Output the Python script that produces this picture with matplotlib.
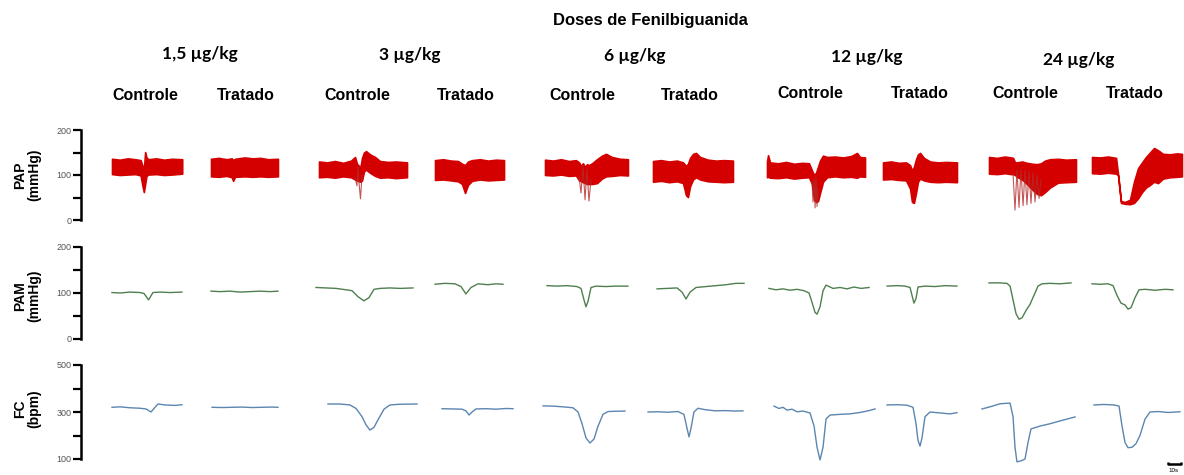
import numpy as np
import matplotlib.pyplot as plt

W, H = 1184, 475
PX_PER_S = 1.3  # horizontal scale of the traces (10 s bar = 13 px)

doses = ["1,5 µg/kg", "3 µg/kg", "6 µg/kg", "12 µg/kg", "24 µg/kg"]
groups = ["Controle", "Tratado"]

# ---- PAP (mmHg): upper / lower envelope of the pulsatile trace, time in s ----
pap_t = [
    [0, 6, 12, 18, 22, 23.5, 24.5, 25.5, 26.5, 28, 34, 40, 46, 54],
    [0, 6, 12, 16, 17, 18.5, 26, 32, 38, 44, 51.5],
    [0, 6.2, 12.3, 18.5, 24.6, 27.7, 29.2, 30.8, 31.9, 33.1, 34.6, 36.2, 39.2, 43.1, 46.9, 53.1, 59.2, 67.7],
    [0, 6.2, 12.3, 17.7, 20.8, 23.1, 25.4, 28.5, 34.6, 40.8, 46.9, 53.1],
    [0, 6.2, 12.3, 18.5, 23.8, 26.2, 27.7, 29.2, 30.8, 32.3, 33.8, 36.2, 40, 43.8, 46.9, 51.5, 57.7, 63.8],
    [0, 6.2, 12.3, 18.5, 23.1, 25.4, 26.9, 28.5, 30.8, 33.1, 36.2, 42.3, 48.5, 54.6, 61.5],
    [0, 0.8, 2.3, 8.5, 14.6, 20.8, 26.9, 32.3, 34.6, 36.2, 37.7, 39.2, 40.8, 43.1, 46.2, 52.3, 58.5, 64.6, 69.2, 71.5, 75.4],
    [0, 6.2, 12.3, 17.7, 20.8, 22.3, 23.8, 25.4, 26.9, 28.5, 31.5, 36.2, 42.3, 48.5, 56.9],
    [0, 6.2, 12.3, 16.9, 18.5, 20, 21.5, 25.4, 29.2, 33.1, 36.9, 40, 43.1, 46.9, 53.1, 59.2, 66.9],
    [0, 6.2, 12.3, 18.5, 20, 22.3, 25.4, 29.2, 32.3, 35.4, 38.5, 41.5, 44.6, 47.7, 50.8, 54.6, 60, 65.4, 69.2],
]
pap_top = [
    [136, 134, 137, 135, 133, 120, 112, 151, 139, 135, 137, 134, 136, 135],
    [136, 138, 135, 137, 133, 136, 139, 137, 138, 135, 136],
    [130, 128, 131, 127, 132, 140, 125, 120, 118, 138, 150, 153, 146, 140, 131, 129, 130, 128],
    [133, 135, 132, 131, 125, 122, 130, 133, 135, 132, 134, 133],
    [134, 132, 135, 131, 133, 128, 120, 126, 118, 124, 122, 126, 135, 143, 147, 140, 136, 135],
    [131, 133, 130, 132, 128, 120, 125, 138, 147, 149, 140, 134, 132, 133, 132],
    [130, 144, 128, 126, 129, 125, 127, 126, 110, 100, 105, 118, 132, 143, 140, 141, 139, 142, 149, 140, 139],
    [128, 130, 127, 128, 122, 110, 118, 135, 146, 149, 138, 130, 128, 129, 128],
    [140, 138, 141, 139, 138, 128, 128, 130, 127, 125, 124, 126, 132, 135, 136, 134, 135],
    [140, 139, 141, 138, 103, 42, 40, 45, 85, 115, 128, 140, 150, 160, 155, 147, 146, 148, 147],
]
pap_bot = [
    [102, 100, 101, 102, 99, 75, 62, 80, 98, 101, 102, 100, 101, 103],
    [97, 96, 98, 95, 87, 96, 97, 96, 97, 96, 97],
    [95, 96, 94, 97, 95, 90, 88, 86, 85, 88, 108, 112, 105, 98, 94, 95, 93, 95],
    [89, 90, 88, 86, 80, 60, 78, 87, 90, 88, 89, 90],
    [100, 99, 101, 98, 99, 88, 86, 84, 82, 80, 80, 80, 82, 92, 97, 98, 100, 99],
    [85, 87, 84, 86, 82, 55, 51, 75, 90, 95, 90, 86, 85, 84, 85],
    [95, 96, 94, 93, 95, 92, 94, 95, 80, 45, 40, 42, 60, 85, 95, 97, 95, 96, 94, 97, 96],
    [90, 91, 89, 88, 70, 40, 38, 60, 85, 92, 88, 85, 84, 85, 84],
    [103, 102, 104, 102, 102, 100, 96, 90, 80, 68, 58, 55, 62, 72, 83, 84, 85],
    [104, 103, 105, 103, 100, 38, 36, 35, 38, 48, 62, 72, 78, 85, 82, 92, 95, 96, 97],
]

# individual beats that swing below the envelope (segment, time, value)
spk_seg = [2, 4, 6, 8]
spk_t = [
    [27.7, 29.2, 30.0, 30.8, 31.9, 33.1],
    [26.2, 27.7, 29.2, 30.8, 32.3, 33.8, 35.4],
    [34.6, 35.4, 36.2, 37.0, 37.7, 38.5, 39.2],
    [18.5, 20, 21.5, 23.1, 24.6, 26.2, 27.7, 29.2, 30.8, 32.3, 33.8, 35.4, 36.9, 38.5, 40],
]
spk_v = [
    [95, 76, 118, 82, 47, 100],
    [95, 60, 120, 45, 115, 42, 90],
    [85, 40, 90, 27, 95, 30, 70],
    [102, 22, 110, 28, 112, 32, 110, 34, 108, 37, 105, 40, 100, 48, 90],
]

# ---- PAM (mmHg) ----
pam_t = [
    [0, 6.2, 13.8, 21.5, 24.6, 26.9, 28.1, 29.2, 31.5, 36.9, 44.6, 53.8],
    [0, 6.9, 14.6, 22.3, 30, 37.7, 45.4, 51.5],
    [-2.3, 5.4, 13.1, 20.8, 25.4, 30, 34.6, 38.5, 42.3, 46.9, 54.6, 62.3, 72.3],
    [0, 7.7, 15.4, 20, 23.8, 27.7, 33.1, 40.8, 46.9, 52.3],
    [1.5, 9.2, 16.9, 24.6, 27.7, 30, 31.5, 33.1, 35.4, 39.2, 46.9, 54.6, 63.8],
    [3.1, 10.8, 18.5, 22.3, 25.4, 28.5, 33.1, 40.8, 48.5, 56.2, 63.8, 70],
    [1.5, 6.9, 12.3, 17.7, 23.1, 28.5, 32.3, 34.6, 36.9, 38.5, 40.8, 43.1, 45.4, 50.8, 56.2, 61.5, 66.9, 72.3, 78.5],
    [3.1, 10.8, 16.9, 20.8, 22.3, 23.8, 25.4, 26.9, 32.3, 40, 47.7, 56.9],
    [0, 7.7, 13.8, 16.2, 18.5, 20.8, 23.1, 25.4, 28.5, 31.5, 34.6, 37.7, 40.8, 46.9, 54.6, 63.1],
    [0, 6.2, 12.3, 16.2, 19.2, 22.3, 25.4, 27.7, 30, 33.1, 36.2, 40.8, 48.5, 56.2, 62.3],
]
pam_v = [
    [101, 100, 102, 101, 99, 90, 85, 90, 101, 102, 101, 102],
    [104, 103, 104, 102, 103, 104, 103, 104],
    [112, 111, 110, 107, 105, 92, 83, 90, 108, 110, 111, 110, 111],
    [119, 121, 120, 114, 98, 112, 120, 118, 120, 119],
    [116, 115, 116, 114, 110, 85, 70, 82, 112, 115, 114, 115, 115],
    [109, 110, 111, 102, 87, 102, 112, 114, 116, 118, 121, 121],
    [110, 107, 109, 106, 108, 105, 100, 80, 58, 54, 70, 105, 117, 110, 112, 109, 113, 110, 112],
    [115, 116, 115, 112, 95, 78, 88, 113, 115, 114, 116, 115],
    [122, 122, 121, 115, 85, 55, 43, 46, 62, 75, 95, 115, 120, 121, 120, 122],
    [120, 119, 120, 116, 95, 78, 74, 65, 68, 90, 107, 108, 106, 108, 107],
]

# ---- FC (bpm) ----
fc_t = [
    [0, 6.2, 13.8, 21.5, 26.2, 30, 33.1, 35.4, 40.8, 48.5, 53.8],
    [0.8, 8.5, 16.2, 23.8, 31.5, 39.2, 46.9, 51.5],
    [6.9, 16.2, 23.8, 28.5, 33.1, 36.2, 39.2, 42.3, 46.2, 50, 54.6, 62.3, 75.4],
    [5.4, 13.1, 20.8, 23.8, 26.2, 28.5, 31.5, 39.2, 46.9, 54.6, 60],
    [-1.5, 6.2, 13.8, 21.5, 25.4, 28.5, 31.5, 34.6, 37.7, 40.8, 44.6, 48.5, 53.8, 61.5],
    [-3.8, 3.8, 11.5, 19.2, 23.8, 26.2, 27.7, 29.2, 31.5, 34.6, 40, 47.7, 55.4, 63.1, 69.2],
    [5.4, 9.2, 12.3, 15.4, 19.2, 23.1, 27.7, 33.1, 36.2, 38.5, 40.8, 43.1, 45.4, 48.5, 56.2, 63.8, 71.5, 77.7, 83.1],
    [3.1, 10.8, 18.5, 23.1, 25.4, 26.9, 28.5, 30, 32.3, 36.2, 43.8, 51.5, 56.9],
    [-5.4, 0.8, 8.5, 16.2, 18.5, 20, 21.5, 24.6, 27.7, 30, 32.3, 39.2, 46.9, 54.6, 66.2],
    [1.5, 9.2, 16.9, 20.8, 23.1, 25.4, 27.7, 30.8, 33.8, 36.9, 40.8, 44.6, 50.8, 58.5, 67.7],
]
fc_v = [
    [320, 322, 318, 316, 313, 300, 320, 334, 330, 328, 331],
    [320, 319, 320, 321, 319, 320, 321, 320],
    [334, 334, 330, 315, 280, 245, 223, 235, 275, 312, 330, 333, 334],
    [314, 313, 312, 305, 287, 300, 313, 314, 312, 315, 314],
    [326, 325, 322, 318, 300, 250, 190, 168, 185, 240, 290, 302, 303, 304],
    [300, 301, 299, 302, 290, 230, 194, 230, 300, 316, 310, 305, 306, 304, 305],
    [325, 315, 320, 308, 312, 301, 304, 296, 240, 150, 96, 150, 270, 287, 290, 292, 298, 305, 313],
    [330, 331, 329, 320, 250, 180, 155, 190, 280, 300, 296, 292, 297],
    [313, 322, 335, 338, 280, 150, 88, 92, 100, 170, 228, 240, 250, 262, 279],
    [330, 332, 330, 325, 240, 170, 148, 150, 165, 200, 270, 300, 302, 298, 301],
]

# layout: left edge (px) of each recording and of the axes
col_left_px = [112, 211, 319, 435, 545, 653, 767, 883, 989, 1092]
axis_px = 81
col_off = [(p - axis_px) / PX_PER_S for p in col_left_px]

fig = plt.figure(figsize=(W / 100, H / 100), dpi=100)
plt.rcParams["font.family"] = ["Liberation Sans", "DejaVu Sans"]


def row_axes(top_px, bottom_px):
    ax = fig.add_axes([axis_px / W, 1 - bottom_px / H,
                       (W - axis_px) / W, (bottom_px - top_px) / H])
    ax.set_xlim(0, (W - axis_px) / PX_PER_S)
    for s in ["top", "right", "bottom"]:
        ax.spines[s].set_visible(False)
    ax.spines["left"].set_linewidth(1.8)
    ax.set_xticks([])
    ax.tick_params(axis="y", direction="out", length=6, width=1.6,
                   labelsize=6.5, labelcolor="#555555", pad=1)
    ax.patch.set_alpha(0)
    return ax


ax_pap = row_axes(130, 220)
ax_pap.set_ylim(0, 200)
ax_pap.set_yticks([0, 50, 100, 150, 200], ["0", "", "100", "", "200"])

ax_pam = row_axes(247, 339)
ax_pam.set_ylim(0, 200)
ax_pam.set_yticks([0, 50, 100, 150, 200], ["0", "", "100", "", "200"])

ax_fc = row_axes(365, 459)
ax_fc.set_ylim(100, 500)
ax_fc.set_yticks([100, 200, 300, 400, 500], ["100", "", "300", "", "500"])

for i in range(10):
    t = np.array(pap_t[i]) + col_off[i]
    ax_pap.fill_between(t, pap_bot[i], pap_top[i], color="#d40000",
                        lw=1.2, edgecolor="#d40000", clip_on=False)
    ax_pam.plot(np.array(pam_t[i]) + col_off[i], pam_v[i], color="#4f7f4f",
                lw=1.0, clip_on=False)
    ax_fc.plot(np.array(fc_t[i]) + col_off[i], fc_v[i], color="#5b86b0",
               lw=1.0, clip_on=False)

for seg, ts, vs in zip(spk_seg, spk_t, spk_v):
    ax_pap.plot(np.array(ts) + col_off[seg], vs, color="#b52a2a", lw=0.8,
                alpha=0.8, clip_on=False)

# row labels
row_labels = [("PAP\n(mmHg)", 175), ("PAM\n(mmHg)", 296), ("FC\n(bpm)", 409)]
for txt, y in row_labels:
    fig.text(27 / W, 1 - y / H, txt, rotation=90, ha="center", va="center",
             fontsize=10, fontweight="bold", linespacing=1.0)

# header
fig.text(650 / W, 1 - 20 / H, "Doses de Fenilbiguanida", ha="center",
         va="center", fontsize=12, fontweight="bold")

dose_x = [200, 410, 635, 867, 1079]
dose_y = [54, 55, 56, 57, 60]
for d, x, y in zip(doses, dose_x, dose_y):
    fig.text(x / W, 1 - y / H, d, ha="center", va="center", fontsize=12.5,
             fontweight="bold", family=["Lato", "DejaVu Sans"])

grp_x = [145, 246, 357, 466, 582, 690, 810, 920, 1025, 1135]
grp_y = [96, 96, 95, 96, 95, 95, 93, 94, 93, 94]
for i, (x, y) in enumerate(zip(grp_x, grp_y)):
    fig.text(x / W, 1 - y / H, groups[i % 2], ha="center", va="center",
             fontsize=11.5, fontweight="bold")

# 10 s scale bar
bar_x0 = (1168 - axis_px) / PX_PER_S
bar_y = 100 + (459 - 464) / 0.235
ax_fc.plot([bar_x0, bar_x0, bar_x0 + 10, bar_x0 + 10],
           [bar_y + 8, bar_y, bar_y, bar_y + 8], color="black", lw=1.8,
           clip_on=False, solid_capstyle="butt")
fig.text(1174 / W, 1 - 471 / H, "10s", ha="center", va="center", fontsize=4.5)

fig.savefig("out.png", dpi=100, facecolor="white")
